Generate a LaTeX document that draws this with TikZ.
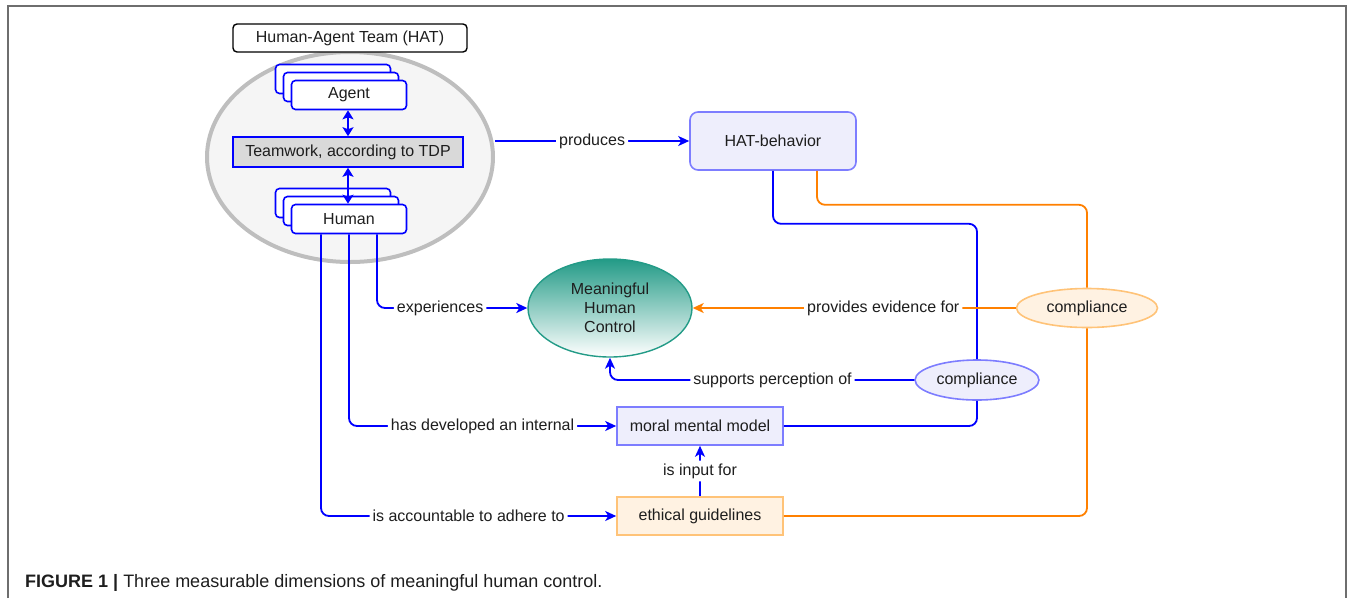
\documentclass[tikz,border=0pt]{standalone}
\usepackage{fontspec}
\setmainfont{Liberation Sans}
\usetikzlibrary{arrows.meta,shapes.geometric,shadows}
\definecolor{hatblue}{RGB}{0,0,255}
\definecolor{lightblue}{RGB}{125,125,255}
\definecolor{lavender}{RGB}{238,238,252}
\definecolor{hatorange}{RGB}{255,128,0}
\definecolor{paleorange}{RGB}{255,242,226}
\definecolor{lightorange}{RGB}{255,195,120}
\definecolor{mhcteal}{RGB}{35,155,135}
\definecolor{ellgray}{RGB}{190,190,190}
\definecolor{ellfill}{RGB}{245,245,245}
\definecolor{teamgray}{RGB}{217,217,217}
\definecolor{framegray}{RGB}{110,110,110}
\definecolor{txt}{RGB}{30,30,30}
\tikzset{
 stack/.style={draw=hatblue,fill=white,line width=1.6pt,rounded corners=4pt,
  minimum width=115pt,minimum height=29pt,
  double copy shadow={shadow xshift=-8pt,shadow yshift=8pt}},
 behbox/.style={draw=lightblue,fill=lavender,line width=1.6pt,minimum width=166pt,minimum height=38pt},
 ethbox/.style={draw=lightorange,fill=paleorange,line width=1.6pt,minimum width=166pt,minimum height=38pt},
 lbl/.style={fill=white,inner sep=3pt,text=txt},
 bconn/.style={draw=hatblue,line width=1.8pt,rounded corners=8pt},
 oconn/.style={draw=hatorange,line width=1.8pt,rounded corners=8pt},
 tip/.style={-{Stealth[length=11pt,width=10pt,inset=3pt]}},
 twotip/.style={{Stealth[length=9pt,width=11pt,inset=2pt]}-{Stealth[length=9pt,width=11pt,inset=2pt]}}
}
\begin{document}
\begin{tikzpicture}[x=1pt,y=-1pt,font=\fontsize{16}{19}\selectfont,text=txt]
\useasboundingbox (0,0) rectangle (1354,598);
\draw[framegray,line width=2pt] (8,598) -- (8,6) -- (1346,6) -- (1346,598);
% the team
\node[ellipse,draw=ellgray,fill=ellfill,line width=4pt,minimum width=286pt,minimum height=210pt] (hatell) at (350,157) {};
\node[draw=black,fill=white,rounded corners=4pt,line width=1.4pt,minimum width=234pt,minimum height=28pt] (hat) at (350,38) {Human-Agent Team (HAT)};
\node[stack] (agent) at (349,95) {Agent};
\node[draw=hatblue,fill=teamgray,line width=1.6pt,minimum width=230pt,minimum height=30pt] (team) at (348,152) {Teamwork, according to TDP};
\node[stack] (human) at (349,219) {Human};
\draw[hatblue,line width=1.8pt,twotip] (agent.south -| team.north) -- (team.north);
\draw[hatblue,line width=1.8pt,twotip] (team.south) -- (human.north -| team.south);
% the rest
\node[behbox,rounded corners=8pt,minimum height=58pt] (beh) at (773,141) {HAT-behavior};
\node[ellipse,draw=mhcteal,line width=1.4pt,top color=mhcteal,bottom color=white,minimum width=164pt,minimum height=98pt,align=center,inner sep=0pt] (mhc) at (610,308) {Meaningful\\Human\\Control};
\node[ellipse,draw=lightorange,fill=paleorange,line width=1.6pt,minimum width=141pt,minimum height=39pt] (compO) at (1087,308) {compliance};
\node[ellipse,draw=lightblue,fill=lavender,line width=1.6pt,minimum width=112pt,minimum height=40pt] (compB) at (977,380) {compliance};
\node[behbox] (mmm) at (700,426) {moral mental model};
\node[ethbox] (eth) at (700,516) {ethical guidelines};

\draw[bconn,tip] (beh.west -| hatell.east) -- node[lbl]{produces} (beh.west);
\draw[bconn] (beh.south) -- ++(0,53) -| (compB.north);
\draw[oconn] ([xshift=44pt]beh.south) -- ++(0,34) -| (compO.north);
\draw[oconn,tip] (compO.west) -- node[lbl,pos=0.41]{provides evidence for} (mhc.east);
\draw[bconn,tip] (compB.west) -| node[lbl,pos=0.233]{supports perception of} (mhc.south);
\draw[bconn] (compB.south) |- (mmm.east);
\draw[bconn,tip] (eth.north) -- node[lbl]{is input for} (mmm.south);
\draw[oconn] (eth.east) -| (compO.south);
\draw[bconn,tip] ([xshift=28pt]human.south) |- node[lbl,pos=0.71]{experiences} (mhc.west);
\draw[bconn,tip] (human.south) |- node[lbl,pos=0.75]{has developed an internal} (mmm.west);
\draw[bconn,tip] ([xshift=-28pt]human.south) |- node[lbl,pos=0.75]{is accountable to adhere to} (eth.west);

\node[anchor=base west,inner sep=0pt,font=\fontsize{18}{21}\selectfont] (cap) at (25,587) {\textbf{FIGURE 1 |} Three measurable dimensions of meaningful human control.};
\end{tikzpicture}
\end{document}
